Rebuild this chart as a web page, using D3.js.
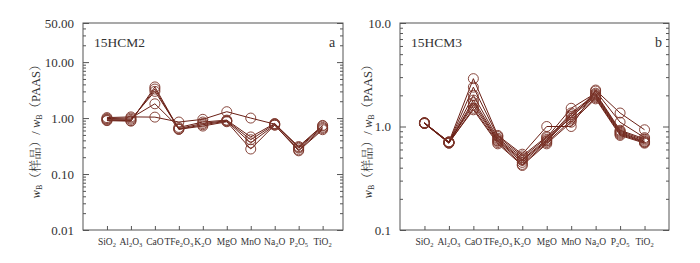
<!DOCTYPE html>
<html>
<head>
<meta charset="utf-8">
<script src="https://cdn.jsdelivr.net/npm/d3@7"></script>
<style>
  body { margin: 0; background: #fff; }
  svg { display: block; }
  text { font-family: "Liberation Serif", "Times New Roman", serif; fill: #333; }
</style>
</head>
<body>
<svg id="chart" width="700" height="263"></svg>
<script>
// oxide categories, digits are drawn as subscripts
const oxides = ['SiO2', 'Al2O3', 'CaO', 'TFe2O3', 'K2O', 'MgO', 'MnO', 'Na2O', 'P2O5', 'TiO2'];

// panel a : 15HCM2, five samples normalised to PAAS
const hcm2 = [
  [1.02, 1.05, 1.04, 0.85, 0.95, 1.30, 1.00, 0.78, 0.31, 0.74],
  [0.98, 1.00, 1.80, 0.68, 0.85, 0.92, 0.46, 0.80, 0.30, 0.72],
  [0.95, 0.95, 3.00, 0.65, 0.80, 0.90, 0.41, 0.78, 0.29, 0.68],
  [0.92, 0.90, 3.30, 0.63, 0.76, 0.88, 0.36, 0.75, 0.27, 0.65],
  [0.90, 0.88, 3.60, 0.63, 0.72, 0.86, 0.28, 0.75, 0.26, 0.62]
];

// panel b : 15HCM3, eight samples normalised to PAAS
const hcm3 = [
  [1.08, 0.71, 2.90, 0.82, 0.54, 1.00, 1.00, 2.25, 1.35, 0.93],
  [1.08, 0.70, 2.40, 0.80, 0.52, 0.80, 1.20, 2.20, 1.10, 0.78],
  [1.07, 0.70, 2.00, 0.77, 0.50, 0.78, 1.50, 2.10, 0.92, 0.76],
  [1.08, 0.69, 1.80, 0.75, 0.48, 0.75, 1.35, 2.05, 0.90, 0.74],
  [1.09, 0.70, 1.70, 0.73, 0.47, 0.73, 1.30, 2.00, 0.88, 0.72],
  [1.08, 0.71, 1.60, 0.72, 0.45, 0.72, 1.25, 1.95, 0.86, 0.71],
  [1.07, 0.69, 1.50, 0.70, 0.43, 0.70, 1.15, 1.90, 0.84, 0.70],
  [1.08, 0.70, 1.45, 0.68, 0.42, 0.68, 1.10, 1.85, 0.82, 0.69]
];

const majorA = [0.01, 0.1, 1, 10, 50];
const majorB = [0.1, 1, 10];

const svg = d3.select('#chart');
const cjk = '"Noto Serif CJK SC", "Noto Sans CJK SC", serif';

function drawPanel(cfg) {
  const x = d3.scaleLinear().domain(cfg.xDomain).range([cfg.left, cfg.right]);
  const y = d3.scaleLog().domain(cfg.yDomain).range([cfg.bottom, cfg.top]);
  const g = svg.append('g');

  const minor = y.ticks().filter(t => !cfg.major.some(m => Math.abs(m - t) / m < 1e-6));

  // left axis: inward ticks, labels outside
  g.append('g').attr('transform', `translate(${cfg.left},0)`)
    .call(d3.axisLeft(y).tickValues(minor).tickSize(-3).tickFormat(''))
    .call(a => a.select('.domain').remove());
  g.append('g').attr('transform', `translate(${cfg.left},0)`)
    .call(d3.axisLeft(y).tickValues(cfg.major).tickSize(-6).tickPadding(9).tickFormat(d3.format(cfg.fmt)))
    .call(a => a.select('.domain').remove())
    .call(a => a.selectAll('text').attr('font-size', 13).attr('fill', '#333'));

  // right axis
  g.append('g').attr('transform', `translate(${cfg.right},0)`)
    .call(d3.axisRight(y).tickValues(minor).tickSize(-3).tickFormat(''))
    .call(a => a.select('.domain').remove());
  g.append('g').attr('transform', `translate(${cfg.right},0)`)
    .call(d3.axisRight(y).tickValues(cfg.major).tickSize(-6).tickFormat(''))
    .call(a => a.select('.domain').remove());

  // bottom ticks
  g.append('g').attr('transform', `translate(0,${cfg.bottom})`)
    .call(d3.axisBottom(x).tickValues(d3.range(oxides.length)).tickSize(-4).tickFormat(''))
    .call(a => a.select('.domain').remove());

  g.selectAll('.tick line').attr('stroke', '#555');

  // frame
  g.append('rect')
    .attr('x', cfg.left).attr('y', cfg.top)
    .attr('width', cfg.right - cfg.left).attr('height', cfg.bottom - cfg.top)
    .attr('fill', 'none').attr('stroke', '#555').attr('stroke-width', 1);

  // category labels with subscripts
  const lab = g.selectAll('.ox').data(oxides).join('text')
    .attr('class', 'ox')
    .attr('x', (d, i) => x(i))
    .attr('y', cfg.bottom + 15)
    .attr('text-anchor', 'middle')
    .attr('font-size', 9.5);
  lab.each(function(d) {
    const t = d3.select(this);
    let low = false;
    d.split(/(\d)/).filter(s => s).forEach(part => {
      const sub = /\d/.test(part);
      const ts = t.append('tspan').text(part);
      if (sub) ts.attr('font-size', 6.5);
      if (sub !== low) ts.attr('dy', sub ? 1.5 : -1.5);
      low = sub;
    });
  });

  // y label
  const yl = g.append('text')
    .attr('transform', `translate(${cfg.labelX},${(cfg.top + cfg.bottom) / 2 + 2}) rotate(-90)`)
    .attr('text-anchor', 'middle')
    .attr('font-size', 12.5)
    .attr('fill', '#555');
  yl.append('tspan').attr('font-style', 'italic').text('w');
  yl.append('tspan').attr('font-size', 8).attr('dy', 2).text('B');
  yl.append('tspan').attr('dy', -2).style('font-family', cjk).text('（样品）');
  yl.append('tspan').text('/ ');
  yl.append('tspan').attr('font-style', 'italic').text('w');
  yl.append('tspan').attr('font-size', 8).attr('dy', 2).text('B');
  yl.append('tspan').attr('dy', -2).style('font-family', cjk).text('（');
  yl.append('tspan').text('PAAS');
  yl.append('tspan').style('font-family', cjk).text('）');

  // sample name and panel letter
  g.append('text').attr('x', cfg.left + 11).attr('y', cfg.top + 24)
    .attr('font-size', 13.5).text(cfg.name);
  g.append('text').attr('x', cfg.right - 14).attr('y', cfg.top + 24)
    .attr('font-size', 14).text(cfg.letter);

  // series
  const line = d3.line().x((d, i) => x(i)).y(d => y(d));
  g.selectAll('.series').data(cfg.data).join('path')
    .attr('class', 'series')
    .attr('d', line)
    .attr('fill', 'none')
    .attr('stroke', '#6a2016')
    .attr('stroke-width', 1);

  cfg.data.forEach(s => {
    g.append('g').selectAll('circle').data(s).join('circle')
      .attr('cx', (d, i) => x(i))
      .attr('cy', d => y(d))
      .attr('r', 5)
      .attr('fill', 'none')
      .attr('stroke', '#7a3328')
      .attr('stroke-width', 0.9);
  });
}

drawPanel({
  left: 83, right: 343, top: 23, bottom: 230,
  xDomain: [-1, 9.85], yDomain: [0.01, 50],
  major: majorA, fmt: '.2f', data: hcm2,
  name: '15HCM2', letter: 'a', labelX: 40
});

drawPanel({
  left: 400, right: 669, top: 23, bottom: 230,
  xDomain: [-1, 10], yDomain: [0.1, 10],
  major: majorB, fmt: '.1f', data: hcm3,
  name: '15HCM3', letter: 'b', labelX: 372
});
</script>
</body>
</html>
